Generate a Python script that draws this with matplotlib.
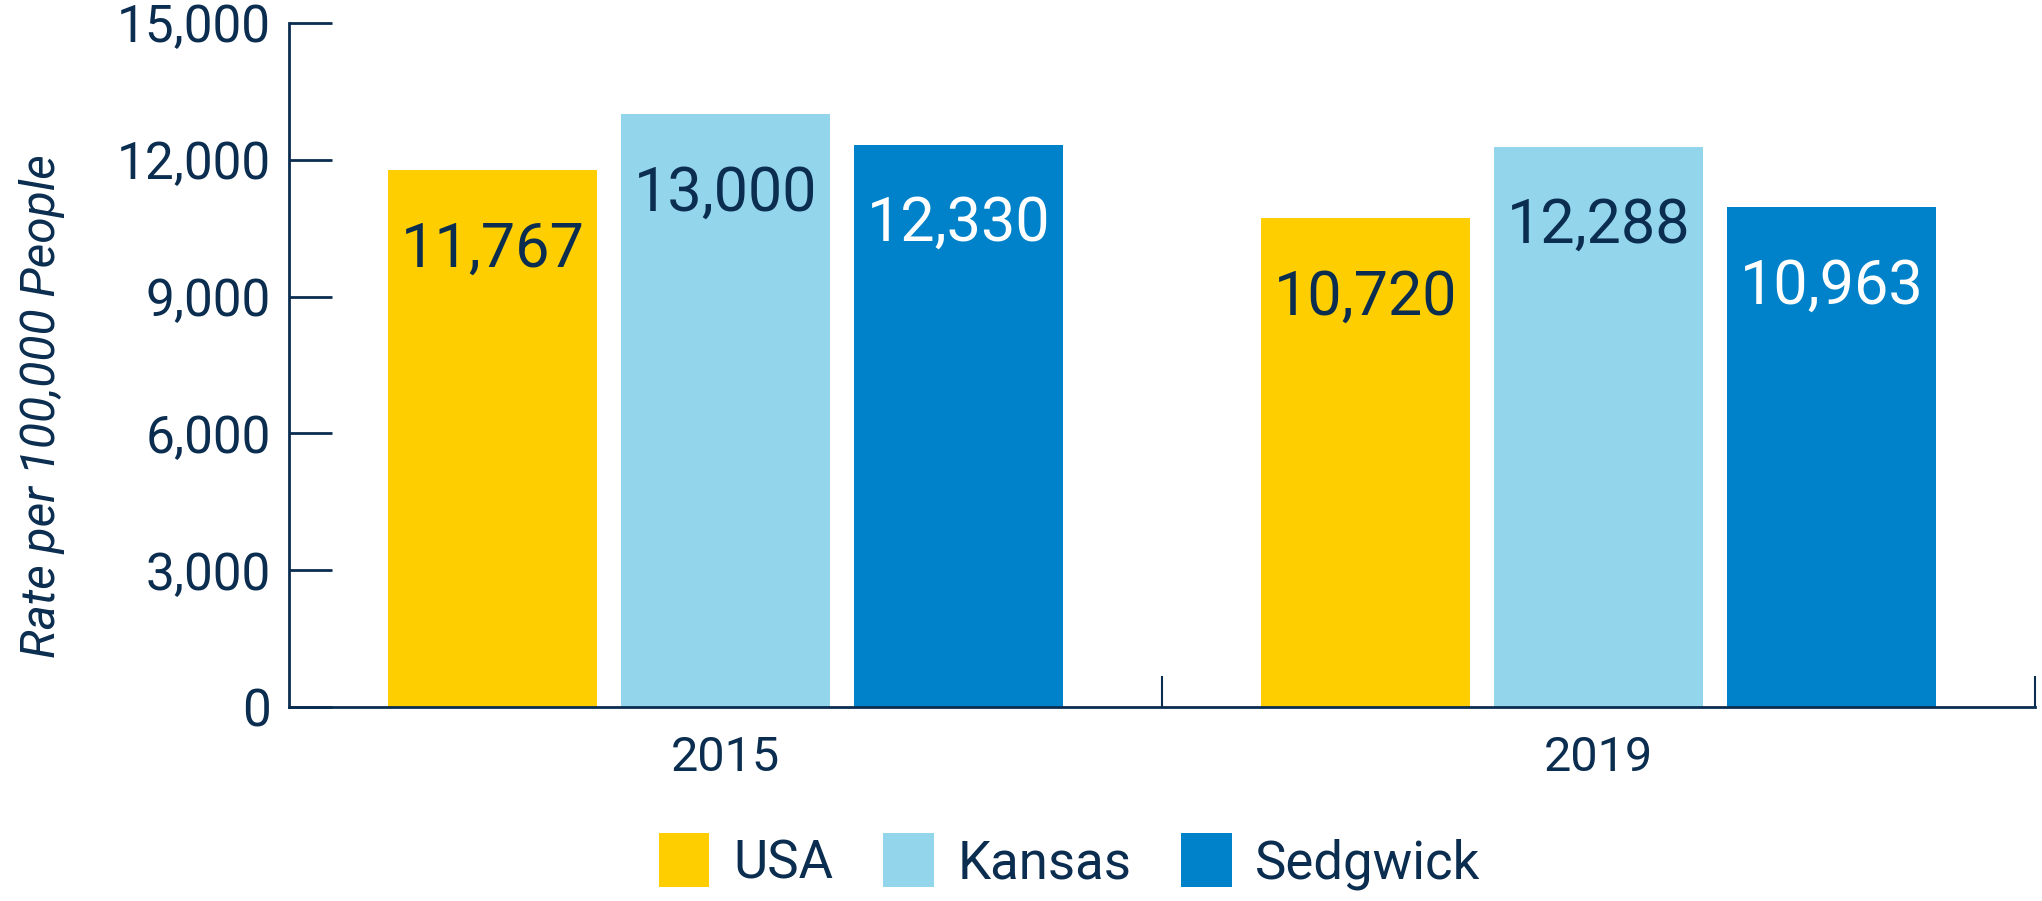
import numpy as np
import matplotlib.pyplot as plt
from matplotlib.ticker import FuncFormatter, FixedLocator

# --- DATA ---
years = ['2015', '2019']
series = ['USA', 'Kansas', 'Sedgwick']
usa = [11767, 10720]
kansas = [13000, 12288]
sedgwick = [12330, 10963]

COLORS = {'USA': '#FFCE00', 'Kansas': '#93D5EB', 'Sedgwick': '#0082CA'}
LABEL_COLORS = {'USA': '#0b2d4f', 'Kansas': '#0b2d4f', 'Sedgwick': 'white'}
NAVY = '#0b2d4f'

plt.rcParams['font.family'] = ['Roboto', 'DejaVu Sans']

fig = plt.figure(figsize=(20.42, 9.01), dpi=100)
ax = fig.add_axes([0.1415, 0.2153, 0.855, 0.7592])

x = np.arange(len(years))
width = 0.24
step = 0.267

for i, (name, vals) in enumerate(zip(series, [usa, kansas, sedgwick])):
    pos = x + (i - 1) * step
    bars = ax.bar(pos, vals, width=width, color=COLORS[name], label=name, zorder=2)
    for b, v in zip(bars, vals):
        ax.annotate(f'{v:,}', (b.get_x() + b.get_width() / 2, v),
                    xytext=(0, -57), textcoords='offset points',
                    ha='center', va='center', fontsize=44,
                    color=LABEL_COLORS[name])

ax.set_xlim(-0.5, 1.5)
ax.set_ylim(0, 15000)
ax.set_yticks([0, 3000, 6000, 9000, 12000, 15000])
ax.yaxis.set_major_formatter(FuncFormatter(lambda v, p: f'{int(v):,}'))

ax.set_xticks(x)
ax.set_xticklabels(years)
ax.xaxis.set_minor_locator(FixedLocator([0.5, 1.5]))

for s in ['top', 'right']:
    ax.spines[s].set_visible(False)
for s in ['left', 'bottom']:
    ax.spines[s].set_color(NAVY)
    ax.spines[s].set_linewidth(2)

ax.tick_params(axis='y', direction='in', length=31, width=2, color=NAVY,
               labelsize=37, labelcolor=NAVY, pad=13)
ax.tick_params(axis='x', which='major', length=0, labelsize=35,
               labelcolor=NAVY, pad=20)
ax.tick_params(axis='x', which='minor', direction='in', length=22, width=1.5,
               color=NAVY)

ax.set_ylabel('Rate per 100,000 People', fontsize=34.5, style='italic', color=NAVY)
ax.yaxis.set_label_coords(-0.128, 0.44)

fig.legend(loc='center', bbox_to_anchor=(0.524, 0.044), ncol=3, frameon=False,
           fontsize=38, labelcolor=NAVY, handlelength=0.95, handleheight=1.2,
           handletextpad=0.45, columnspacing=0.95)

fig.savefig('out.png', dpi=100)
